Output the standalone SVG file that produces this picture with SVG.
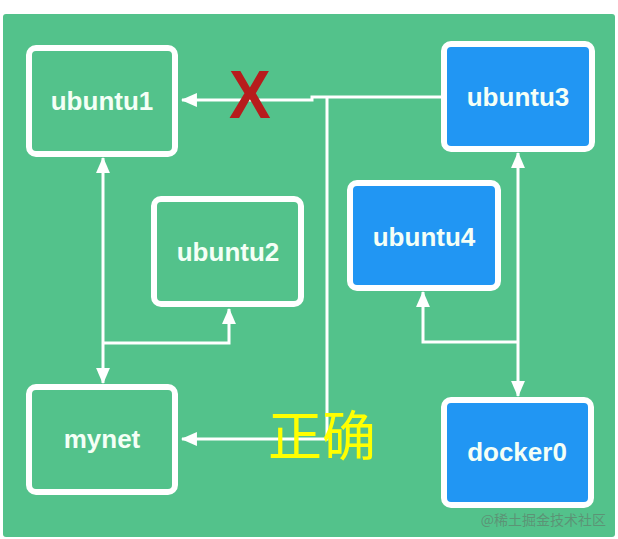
<svg xmlns="http://www.w3.org/2000/svg" width="618" height="539" viewBox="0 0 618 539">
<defs>
<style>
.box{stroke:#fff;stroke-width:6;}
.g{fill:#53C28B;}
.b{fill:#2196F3;}
.lbl{font-family:"Liberation Sans",Arial,sans-serif;font-weight:bold;font-size:26px;fill:#F4FFF6;text-anchor:middle;}
.ln{fill:none;stroke:#fff;stroke-width:3;}
</style>
<marker id="ah" viewBox="0 0 16 14" refX="15" refY="7" markerWidth="5.3" markerHeight="4.7" orient="auto" markerUnits="strokeWidth">
<path d="M0,0 L16,7 L0,14 z" fill="#fff"/>
</marker>
</defs>
<rect width="618" height="539" fill="#fff"/>
<rect x="3" y="14" width="612" height="523" rx="3" fill="#53C28B"/>
<g id="connectors">
<path class="ln" d="M441,97 H312 V100 H182" marker-end="url(#ah)"/>
<path class="ln" d="M327,97 V439 H182" marker-end="url(#ah)"/>
<path class="ln" d="M103,250 V158" marker-end="url(#ah)"/>
<path class="ln" d="M103,250 V383" marker-end="url(#ah)"/>
<path class="ln" d="M103,343 H229 V309" marker-end="url(#ah)"/>
<path class="ln" d="M518,260 V153" marker-end="url(#ah)"/>
<path class="ln" d="M518,260 V396" marker-end="url(#ah)"/>
<path class="ln" d="M518,342 H423 V292" marker-end="url(#ah)"/>
</g>
<g id="ubuntu1"><rect class="box g" x="29" y="48" width="146" height="106" rx="7"/><text class="lbl" x="102" y="110">ubuntu1</text></g>
<g id="ubuntu2"><rect class="box g" x="154" y="199" width="147" height="105" rx="7"/><text class="lbl" x="228" y="261">ubuntu2</text></g>
<g id="ubuntu3"><rect class="box b" x="444" y="44" width="148" height="105" rx="7"/><text class="lbl" x="518" y="106">ubuntu3</text></g>
<g id="ubuntu4"><rect class="box b" x="350" y="183" width="148" height="105" rx="7"/><text class="lbl" x="424" y="246">ubuntu4</text></g>
<g id="mynet"><rect class="box g" x="29" y="387" width="146" height="105" rx="7"/><text class="lbl" x="102" y="448">mynet</text></g>
<g id="docker0"><rect class="box b" x="444" y="400" width="147" height="105" rx="7"/><text class="lbl" x="517" y="461">docker0</text></g>
<text x="250" y="118" font-family="'Liberation Sans',Arial,sans-serif" font-weight="bold" font-size="68" fill="#B71C1C" text-anchor="middle" transform="translate(250 0) scale(0.92 1) translate(-250 0)">X</text>
<text x="268" y="456" font-family="'Noto Sans CJK SC',sans-serif" font-size="54" fill="#FFFF00">正确</text>
<text x="606" y="525" font-family="'Noto Sans CJK SC',sans-serif" font-size="14" fill="#5E8B72" fill-opacity="0.85" text-anchor="end">@稀土掘金技术社区</text>
</svg>
